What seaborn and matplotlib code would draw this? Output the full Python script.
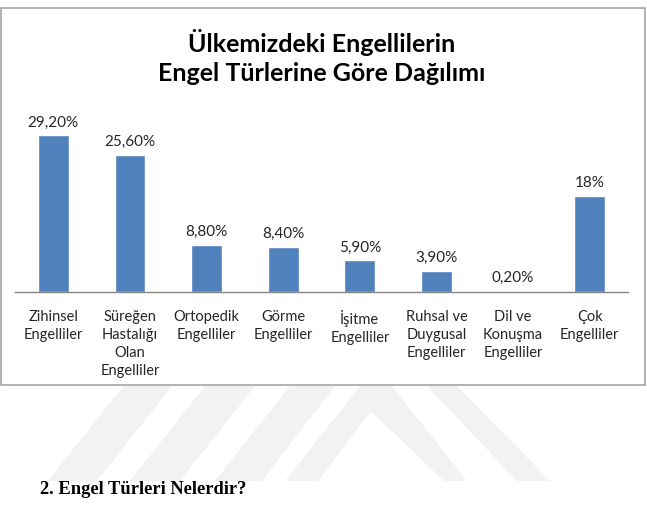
import matplotlib
matplotlib.use("Agg")
import matplotlib.pyplot as plt
import seaborn as sns
import pandas as pd
from matplotlib.patches import Rectangle, Polygon

categories = [
    "Zihinsel\nEngelliler",
    "Süreğen\nHastalığı\nOlan\nEngelliler",
    "Ortopedik\nEngelliler",
    "Görme\nEngelliler",
    "İşitme\nEngelliler",
    "Ruhsal ve\nDuygusal\nEngelliler",
    "Dil ve\nKonuşma\nEngelliler",
    "Çok\nEngelliler",
]
values = [29.2, 25.6, 8.8, 8.4, 5.9, 3.9, 0.2, 18.0]
value_labels = ["29,20%", "25,60%", "8,80%", "8,40%", "5,90%", "3,90%", "0,20%", "18%"]
title = "Ülkemizdeki Engellilerin\nEngel Türlerine Göre Dağılımı"
heading = "2. Engel Türleri Nelerdir?"

sns.set_theme(style="white")
plt.rcParams["font.family"] = ["Lato", "DejaVu Sans"]

W, H = 647, 510
fig = plt.figure(figsize=(W / 100, H / 100), dpi=100)

def fx(px):
    return px / W

def fy(py):
    return 1 - py / H

def pts(seq):
    return [(fx(a), fy(b)) for a, b in seq]

# faint page watermark below the chart frame
wm = "#f2f2f2"
shapes = [
    [(123, 387), (172, 387), (97, 482), (48, 482)],
    [(205, 387), (255, 387), (180, 482), (130, 482)],
    [(290, 387), (335, 387), (262, 482), (215, 482)],
    [(285, 482), (360, 387), (392, 387), (467, 482), (444, 482), (371, 412), (318, 482)],
    [(427, 387), (457, 387), (550, 482), (517, 482)],
]
for s in shapes:
    fig.add_artist(Polygon(pts(s), closed=True, transform=fig.transFigure,
                           facecolor=wm, edgecolor="none", zorder=0))

# chart frame
fig.add_artist(Rectangle((fx(1), fy(386)), fx(644), (386 - 9) / H,
                         transform=fig.transFigure, fill=False,
                         edgecolor="#a6a6a6", linewidth=1.2))

ymax = 35.0
ppu = 5.36
ax_bottom_px = 293
ax_h_px = ymax * ppu
ax = fig.add_axes([fx(15), fy(ax_bottom_px), fx(613), ax_h_px / H])
ax.patch.set_alpha(0)

df = pd.DataFrame({"cat": categories, "val": values})
sns.barplot(data=df, x="cat", y="val", color="#4f81bd", saturation=1,
            width=0.4, ax=ax)
ax.set_ylim(0, ymax)
ax.set_xlim(-0.5, len(categories) - 0.5)
ax.bar_label(ax.containers[0], labels=value_labels, padding=5,
             fontsize=11, color="#262626")

for s in ["left", "right", "top"]:
    ax.spines[s].set_visible(False)
ax.spines["bottom"].set_color("#868686")
ax.spines["bottom"].set_linewidth(1.0)
ax.set_yticks([])
ax.set_xlabel("")
ax.set_ylabel("")
ax.tick_params(axis="x", length=0, pad=12, labelsize=10.5, labelcolor="#262626")
for t in ax.get_xticklabels():
    t.set_linespacing(1.36)

fig.text(fx(322), fy(57), title, ha="center", va="center", fontsize=18,
         fontweight="bold", color="black", linespacing=1.35)

fig.text(fx(40), fy(490), heading, ha="left", va="center", fontsize=13.3,
         fontweight="bold", color="black", family=["Liberation Serif"])

fig.savefig("out.png", dpi=100)
